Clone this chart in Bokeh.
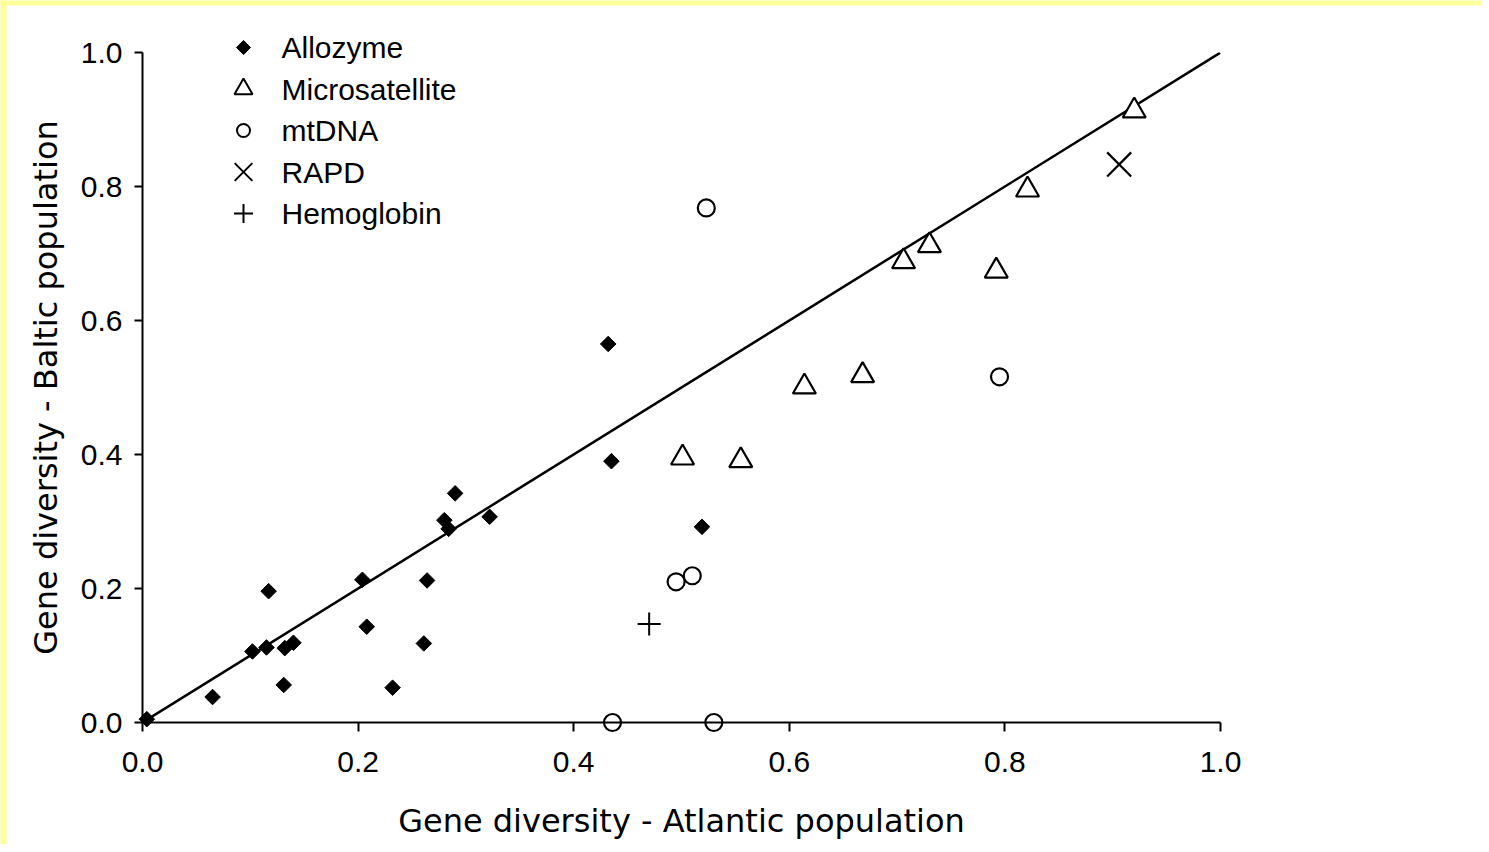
import numpy as np
from bokeh.plotting import figure
from bokeh.models import FixedTicker, Range1d
from bokeh.core.properties import value
from bokeh.embed import file_html
from bokeh.resources import INLINE

# ---- data ----
allozyme_x = [0.004, 0.065, 0.102, 0.115, 0.117, 0.131, 0.132, 0.140, 0.204, 0.208,
              0.232, 0.261, 0.264, 0.280, 0.284, 0.290, 0.322, 0.432, 0.435, 0.519]
allozyme_y = [0.005, 0.038, 0.106, 0.112, 0.196, 0.056, 0.111, 0.119, 0.213, 0.143,
              0.052, 0.118, 0.212, 0.302, 0.289, 0.342, 0.307, 0.565, 0.390, 0.292]

micro_x = [0.920, 0.821, 0.730, 0.706, 0.792, 0.668, 0.614, 0.501, 0.555]
micro_y = [0.913, 0.795, 0.712, 0.688, 0.674, 0.518, 0.501, 0.395, 0.391]

mtdna_x = [0.523, 0.795, 0.495, 0.510, 0.436, 0.530]
mtdna_y = [0.768, 0.516, 0.210, 0.219, 0.000, 0.000]

rapd_x = [0.906]
rapd_y = [0.833]

hemo_x = [0.470]
hemo_y = [0.147]

fit_x = [0.0, 1.0]
fit_y = [0.0, 1.0]

ticks = [0.0, 0.2, 0.4, 0.6, 0.8, 1.0]
tick_labels = ["0.0", "0.2", "0.4", "0.6", "0.8", "1.0"]

series_names = ["Allozyme", "Microsatellite", "mtDNA", "RAPD", "Hemoglobin"]

# ---- layout constants ----
W, H = 1481, 844
BORDER_L, BORDER_T, BORDER_B = 142, 52, 122
FRAME_W = 1078
BORDER_R = W - BORDER_L - FRAME_W
FRAME_H = H - BORDER_T - BORDER_B          # 670 px

p = figure(width=W, height=H, output_backend="svg", toolbar_location=None,
           x_range=Range1d(0, 1), y_range=Range1d(0, 1),
           min_border_left=BORDER_L, min_border_right=BORDER_R,
           min_border_top=BORDER_T, min_border_bottom=BORDER_B)
p.outline_line_color = None
p.xgrid.visible = False
p.ygrid.visible = False
p.background_fill_color = "white"
p.border_fill_color = "white"

# pixel-space ranges for the legend block and page frame
p.extra_x_ranges = {"px": Range1d(0, FRAME_W)}
p.extra_y_ranges = {"py": Range1d(0, FRAME_H)}

# light-yellow page edge (top and left strips)
FRAME_BOTTOM = BORDER_T + FRAME_H
p.quad(left=[-BORDER_L, -BORDER_L], right=[W - BORDER_L, -BORDER_L + 6],
       bottom=[FRAME_BOTTOM - 5, FRAME_BOTTOM - H], top=[FRAME_BOTTOM, FRAME_BOTTOM],
       x_range_name="px", y_range_name="py", fill_color="#FFFF99",
       line_color=None, level="overlay")

p.line(fit_x, fit_y, line_color="black", line_width=2.5)

p.scatter(allozyme_x, allozyme_y, marker="square", size=11, angle=np.pi / 4,
          fill_color="black", line_color="black", line_width=1, level="overlay")
p.scatter(micro_x, micro_y, marker="triangle", size=23, fill_color="white",
          line_color="black", line_width=2.2, level="overlay")
p.scatter(mtdna_x, mtdna_y, marker="circle", size=17, fill_color=None,
          line_color="black", line_width=2.2, level="overlay")
p.scatter(rapd_x, rapd_y, marker="x", size=34, line_color="black",
          line_width=2.2, level="overlay")
p.scatter(hemo_x, hemo_y, marker="cross", size=23, line_color="black",
          line_width=2, level="overlay")

# ---- legend (drawn in pixel space, above-left of the frame) ----
leg_marker_x = 101
leg_text_x = 139
leg_top = FRAME_H + (BORDER_T - 47)
leg_step = 41.5
leg_rows = [leg_top - i * leg_step for i in range(len(series_names))]
leg_styles = [
    dict(marker="square", size=10, angle=np.pi / 4, fill_color="black", line_color="black", line_width=1),
    dict(marker="triangle", size=18, fill_color="white", line_color="black", line_width=2),
    dict(marker="circle", size=13, fill_color=None, line_color="black", line_width=2),
    dict(marker="x", size=25, line_color="black", line_width=2),
    dict(marker="cross", size=19, line_color="black", line_width=2),
]
for row_y, st in zip(leg_rows, leg_styles):
    p.scatter([leg_marker_x], [row_y], x_range_name="px", y_range_name="py",
              level="overlay", **st)
p.text(x=[leg_text_x] * len(series_names), y=leg_rows, text=series_names,
       x_range_name="px", y_range_name="py", text_font=value("Liberation Sans"),
       text_font_size="30px", text_color="black", text_align="left",
       text_baseline="middle", level="overlay")

# ---- axes ----
tick_map = {t: l for t, l in zip(ticks, tick_labels)}
for ax in (p.xaxis[0], p.yaxis[0]):
    ax.ticker = FixedTicker(ticks=ticks)
    ax.major_label_overrides = tick_map
    ax.bounds = (0, 1)
    ax.axis_line_width = 2
    ax.axis_line_color = "black"
    ax.major_tick_line_width = 2
    ax.major_tick_line_color = "black"
    ax.major_tick_in = 0
    ax.minor_tick_line_color = None
    ax.major_label_text_font = "Liberation Sans"
    ax.major_label_text_font_size = "30px"
    ax.major_label_text_color = "black"
    ax.axis_label_text_font = "DejaVu Sans"
    ax.axis_label_text_font_size = "32px"
    ax.axis_label_text_font_style = "normal"
    ax.axis_label_text_color = "black"

p.xaxis.major_tick_out = 9
p.xaxis.major_label_standoff = 20
p.xaxis.axis_label = "Gene diversity - Atlantic population"
p.xaxis.axis_label_standoff = 27

p.yaxis.major_tick_out = 8
p.yaxis.major_label_standoff = 12
p.yaxis.axis_label = "Gene diversity - Baltic population"
p.yaxis.axis_label_standoff = 13

open("out.html", "w").write(file_html(p, INLINE))
